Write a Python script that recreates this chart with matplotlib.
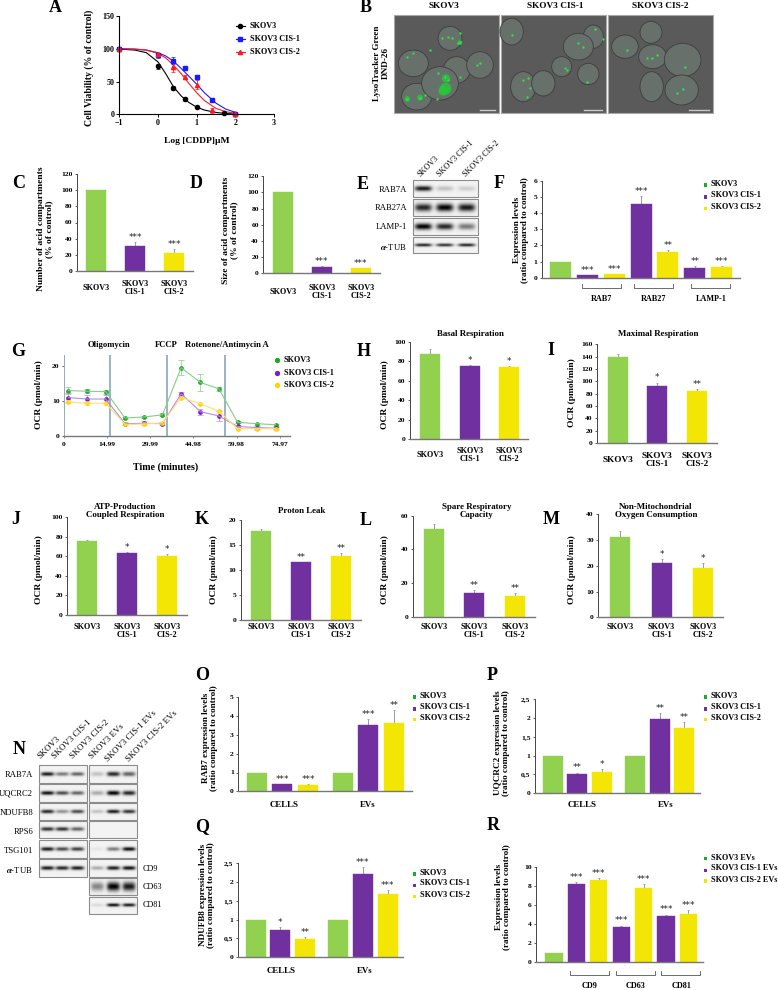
# -*- coding: utf-8 -*-
import numpy as np
import matplotlib
matplotlib.use('Agg')
import matplotlib.pyplot as plt
from matplotlib.patches import Rectangle, Ellipse

plt.rcParams['font.family'] = ['Liberation Serif', 'DejaVu Sans']
plt.rcParams['font.weight'] = 'bold'
plt.rcParams['mathtext.fontset'] = 'stix'

W, H = 778, 990
GREEN = '#92d050'
PURPLE = '#7030a0'
YELLOW = '#f3e504'
LEG_GREEN = '#1fa82a'
TRIO = [GREEN, PURPLE, YELLOW]
SEVEN = [GREEN, PURPLE, YELLOW, PURPLE, YELLOW, PURPLE, YELLOW]
SIX = [GREEN, PURPLE, YELLOW, GREEN, PURPLE, YELLOW]
LINES = ['SKOV3', 'SKOV3 CIS-1', 'SKOV3 CIS-2']
CATS = ['SKOV3', 'SKOV3\nCIS-1', 'SKOV3\nCIS-2']

# ----- panel A
A_FIT_X = [-1, -0.6, -0.3, 0, 0.2, 0.4, 0.6, 0.8, 1, 1.2, 1.5, 1.75, 2]
A_FIT_K = [99.5, 98, 94, 80, 62, 42, 28, 18, 11, 6.5, 2.8, 1.2, 0.4]
A_FIT_B = [100, 99.5, 98, 94, 89, 81, 70, 58, 46, 33, 17, 8, 3]
A_FIT_R = [100, 99.5, 98, 93, 86, 75, 62, 47, 33, 21, 9, 4, 1.5]
A_X_K = [-1, 0, 0.4, 0.7, 1, 1.7, 2]
A_K = [100, 73, 40, 23.5, 11, 2.5, 0.5]
A_KE = [0, 4, 3.5, 3.5, 1, 0.5, 0.3]
A_X_C = [-1, 0, 0.4, 0.7, 1, 1.4, 2]
A_B = [100, 90, 82, 70, 57, 22, 1]
A_BE = [0, 4, 5, 2, 3, 2, 0.5]
A_R = [100, 92, 72, 57, 45, 6, 0.5]
A_RE = [0, 2, 7, 3, 7, 4, 0.5]

# ----- bar panels
C_VALS, C_ERRS, C_STARS = [100, 30.5, 22.5], [0.4, 5.5, 5], ['', '***', '***']
D_VALS, D_ERRS, D_STARS = [100, 8, 6], [0.4, 0.8, 0.6], ['', '***', '***']
F_VALS = [1, 0.15, 0.2, 4.55, 1.6, 0.6, 0.68]
F_ERRS = [0, 0.03, 0.03, 0.5, 0.12, 0.1, 0.04]
F_STARS = ['', '***', '***', '***', '**', '**', '***']
H_VALS, H_ERRS, H_STARS = [88, 75, 74], [4.5, 1, 1.2], ['', '*', '*']
I_VALS, I_ERRS, I_STARS = [139, 92, 84], [5, 6, 3], ['', '*', '**']
J_VALS, J_ERRS, J_STARS = [76, 63, 60.5], [1.2, 1, 1.5], ['', '*', '*']
K_VALS, K_ERRS, K_STARS = [17.8, 11.6, 12.9], [0.4, 0, 0.5], ['', '**', '**']
L_VALS, L_ERRS, L_STARS = [52, 14, 12.5], [3, 2, 1.5], ['', '**', '**']
M_VALS, M_ERRS, M_STARS = [31.2, 21, 19.3], [2.3, 1.6, 1.7], ['', '*', '*']
O_VALS = [1, 0.37, 0.34, 1, 3.55, 3.62]
O_ERRS = [0, 0.02, 0.03, 0, 0.28, 0.68]
O_STARS = ['', '***', '***', '', '***', '**']
P_VALS = [1, 0.5, 0.56, 1, 1.97, 1.72]
P_ERRS = [0, 0.05, 0.08, 0, 0.16, 0.16]
P_STARS = ['', '**', '*', '', '**', '**']
Q_VALS = [1, 0.73, 0.49, 1, 2.2, 1.68]
Q_ERRS = [0, 0.07, 0.04, 0, 0.2, 0.1]
Q_STARS = ['', '*', '**', '', '***', '***']
R_VALS = [1, 8.2, 8.7, 3.7, 7.8, 4.9, 5.05]
R_ERRS = [0, 0.2, 0.15, 0.15, 0.4, 0.1, 0.4]
R_STARS = ['', '***', '***', '***', '***', '***', '***']
COMMA_TICKS = ['0', '0,5', '1', '1,5', '2', '2,5']

# ----- panel G
G_T = [1.5, 8.1, 14.5, 21.2, 27.7, 34.2, 40.7, 47.4, 53.8, 60.3, 66.9, 73.5]
G_GREEN = [12.9, 12.7, 12.6, 5.1, 5.4, 6.0, 19.4, 15.2, 13.4, 3.9, 3.5, 3.2]
G_GREEN_E = [0.9, 0.6, 0.6, 0.3, 0.4, 0.4, 2.2, 2.3, 0.6, 0.3, 0.3, 0.3]
G_PURPLE = [10.9, 10.5, 10.5, 3.5, 3.6, 3.5, 12.0, 6.9, 5.7, 2.7, 2.4, 2.2]
G_PURPLE_E = [1.2, 1.2, 1.2, 0.5, 0.6, 0.5, 0.4, 0.8, 1.5, 0.3, 0.4, 0.3]
G_YELLOW = [9.7, 9.3, 9.3, 3.3, 3.4, 3.7, 10.9, 9.2, 7.0, 2.1, 2.1, 2.1]
G_YELLOW_E = [0.4, 0.4, 0.4, 0.3, 0.3, 0.3, 0.4, 0.3, 0.4, 0.3, 0.3, 0.3]
G_TICKS = [0, 14.99, 29.99, 44.98, 59.98, 74.97]
G_INJECT = [16, 35.9, 55.9]

# ----- blots, darkness per lane
E_ROWS = ['RAB7A', 'RAB27A', 'LAMP-1', r'$\alpha$-TUB']
E_DARK = [[0.9, 0.2, 0.15], [0.85, 1, 0.9], [1, 0.85, 0.5], [0.85, 0.8, 0.85]]
E_BAND_H = [4, 6, 5, 2.5]
N_ROWS = ['RAB7A', 'UQCRC2', 'NDUFB8', 'RPS6', 'TSG101', r'$\alpha$-TUB']
N_LEFT = [[0.9, 0.5, 0.6], [0.95, 0.7, 0.6], [0.85, 0.4, 0.7],
          [0.8, 0.8, 0.6], [0.9, 0.7, 0.75], [0.9, 0.85, 0.9]]
N_RIGHT = [[0.2, 0.85, 0.6], [0.3, 1, 0.85], [0.2, 0.9, 0.8], [0, 0, 0],
           [0.05, 0.5, 0.95], [0.3, 0.9, 0.95], [0.45, 1, 0.9], [0.1, 0.95, 0.9]]
N_RIGHT_H = [3.5, 3.5, 3, 3, 3, 3, 7, 2.5]
N_HEAD = ['SKOV3', 'SKOV3 CIS-1', 'SKOV3 CIS-2', 'SKOV3 EVs', 'SKOV3 CIS-1 EVs', 'SKOV3 CIS-2 EVs']

# ----- micrographs, read at 3x from the picture (crop starts at x=380)
B_SPOTS = [(185, 115), (205, 110), (240, 100), (240, 125), (215, 113), (235, 130), (100, 158),
           (150, 150), (80, 170), (175, 218), (195, 232), (240, 230), (290, 195), (300, 190),
           (80, 297), (120, 293), (135, 285), (170, 297), (205, 240),
           (555, 205), (595, 128), (645, 88), (430, 240), (450, 265), (445, 235), (620, 245),
           (560, 210), (610, 140), (395, 105), (440, 290), (670, 118),
           (815, 175), (800, 175), (830, 165), (910, 268), (890, 278), (915, 200), (740, 150)]
B_BLOBS = [(197, 266, 70), (190, 272, 50), (198, 235, 35), (82, 297, 18), (120, 293, 18), (240, 128, 12)]
B_CELLS = [(210, 115, 36, 36), (100, 190, 45, 40), (230, 210, 40, 40), (300, 195, 40, 40),
           (110, 290, 45, 40), (180, 250, 55, 50),
           (395, 95, 35, 40), (640, 110, 30, 35), (595, 140, 45, 40), (545, 200, 30, 30),
           (625, 222, 32, 32), (430, 260, 38, 45), (490, 250, 35, 38),
           (813, 97, 33, 33), (735, 140, 40, 35), (818, 170, 42, 36), (908, 180, 55, 50),
           (815, 260, 35, 45), (905, 270, 50, 45)]


fig = plt.figure(figsize=(W / 100, H / 100), dpi=100, facecolor='white')


def px_axes(l, r, t, b):
    return fig.add_axes([l / W, 1 - b / H, (r - l) / W, (b - t) / H], facecolor='none')


ov = fig.add_axes([0, 0, 1, 1], facecolor='none', zorder=5)
ov.set_xlim(0, W)
ov.set_ylim(H, 0)
ov.axis('off')


def txt(x, y, s, size=6.3, **kw):
    kw.setdefault('ha', 'center')
    kw.setdefault('va', 'center')
    ov.text(x, y, s, fontsize=size, **kw)


def style_axis(ax, color='#777777', size=5.4):
    for s in ('top', 'right'):
        ax.spines[s].set_visible(False)
    ax.spines['bottom'].set_color(color)
    ax.spines['left'].set_color('#444444')
    ax.spines['left'].set_linewidth(0.7)
    ax.spines['bottom'].set_linewidth(1.0)
    ax.tick_params(axis='y', length=1.6, width=0.6, pad=1.6, labelsize=size, color='#444444')
    ax.tick_params(axis='x', length=0)


def bar_panel(box, ymax, yticks, vals, errs, stars, colors, x, c0, sp, bw, cats=None,
              cat_y=None, cat_mid=True, ticklabels=None, tick_size=5.4, cat_size=5.9, star_up=3.4):
    l, r, t, b = box
    ax = px_axes(l, r, t, b)
    ax.set_xlim((l - c0) / sp, (r - c0) / sp)
    ax.set_ylim(0, ymax)
    ax.bar(x, vals, width=bw / sp, color=colors, edgecolor=[c + '' for c in colors], linewidth=0.3, zorder=2)
    for xi, v, e, c in zip(x, vals, errs, colors):
        if e > 0:
            ax.errorbar(xi, v, yerr=[[0], [e]], color='#8a8a8a', lw=0.6, capsize=1.0, capthick=0.5, zorder=1)
    for xi, v, e, s in zip(x, vals, errs, stars):
        if s:
            ax.annotate(s, (xi, v + e), xytext=(0, star_up), textcoords='offset points',
                        ha='center', va='center', fontsize=6.3, fontfamily='DejaVu Sans', fontweight='normal',
                        color='#222222')
    style_axis(ax, size=tick_size)
    ax.set_yticks(yticks)
    if ticklabels:
        ax.set_yticklabels(ticklabels)
    if cats:
        ax.set_xticks(x)
        if cat_mid:
            ax.set_xticklabels(cats, fontsize=cat_size, va='center', linespacing=1.0)
            ax.tick_params(axis='x', pad=(cat_y - b) * 0.72)
        else:
            ax.set_xticklabels(cats, fontsize=cat_size, va='top', linespacing=1.0)
            ax.tick_params(axis='x', pad=(cat_y - 4 - b) * 0.72)
    else:
        ax.set_xticks([])
    return ax


def legend_squares(x_sq, x_txt, ys_sq, ys_txt, labels, size=5.9):
    for y, c in zip(ys_sq, [LEG_GREEN, PURPLE, YELLOW]):
        ov.add_patch(Rectangle((x_sq - 1.7, y - 1.7), 3.4, 3.4, color=c, lw=0))
    for y, s in zip(ys_txt, labels):
        txt(x_txt, y, s, size=size, ha='left')


def bracket(x0, x1, y, up=3.7):
    ov.plot([x0, x0, x1, x1], [y - up, y, y, y - up], color='#555555', lw=0.6)


def blot(l, r, t, b, lanes, dark, band_h, band_w=8.5):
    ny, nx = 60, 160
    yy, xx = np.mgrid[0:ny, 0:nx]
    px_x = l + (xx + 0.5) / nx * (r - l)
    px_y = t + (yy + 0.5) / ny * (b - t)
    img = np.zeros((ny, nx))
    cy = (t + b) / 2
    for cx, d in zip(lanes, dark):
        img += d * np.exp(-((px_x - cx) / band_w) ** 4) * np.exp(-((px_y - cy) / (band_h / 1.6)) ** 2)
    img = 0.95 - 0.95 * np.clip(img, 0, 1)
    ov.imshow(img, extent=(l, r, b, t), cmap='gray', vmin=0, vmax=1, aspect='auto', zorder=1, interpolation='bilinear')
    ov.add_patch(Rectangle((l, t), r - l, b - t, fill=False, ec='#8c8c8c', lw=0.8, zorder=2))


# ----- A
ax = px_axes(119.3, 274, 16, 114.3)
ax.set_xlim(-1, 3)
ax.set_ylim(0, 150)
for fit, c in zip([A_FIT_K, A_FIT_B, A_FIT_R], ['black', '#1a1aff', '#ff1a1a']):
    ax.plot(A_FIT_X, fit, color=c, lw=0.8, clip_on=False)
ax.errorbar(A_X_K, A_K, yerr=A_KE, fmt='o', color='black', ms=3, lw=0.6, capsize=1.2, capthick=0.5, clip_on=False)
ax.errorbar(A_X_C, A_B, yerr=A_BE, fmt='s', color='#1a1aff', ms=3, lw=0.6, capsize=1.2, capthick=0.5, clip_on=False)
ax.errorbar(A_X_C, A_R, yerr=A_RE, fmt='^', color='#ff1a1a', ms=3, lw=0.6, capsize=1.2, capthick=0.5, clip_on=False)
for s in ('top', 'right'):
    ax.spines[s].set_visible(False)
for s in ('left', 'bottom'):
    ax.spines[s].set_linewidth(0.8)
ax.set_xticks(range(-1, 4))
ax.set_yticks([0, 50, 100, 150])
ax.tick_params(length=2, width=0.7, pad=1.5, labelsize=5.8)
for y, s, c, m in zip([25.7, 38.7, 51.7], LINES, ['black', '#1a1aff', '#ff1a1a'], ['o', 's', '^']):
    ov.plot([236, 245], [y, y], color=c, lw=0.8)
    ov.plot([240.5], [y], marker=m, color=c, ms=3)
    txt(250, y, s, size=5.9, ha='left')
txt(89, 68.3, 'Cell Viability (% of control)', size=7, rotation=90)
txt(197, 141.3, 'Log [CDDP]µM', size=6.8)

# ----- B
for l, r in [(394, 499), (501, 606), (608, 712.7)]:
    ov.add_patch(Rectangle((l, 14.7), r - l, 98.6, fc='#5a5a5a', ec='#a8a8a8', lw=0.8, zorder=1))
for cx, cy, rx, ry in B_CELLS:
    ov.add_patch(Ellipse((380 + cx / 3, cy / 3), 2 * rx / 3, 2 * ry / 3, fc='#67706a', ec='#3e3e3e', lw=0.6, zorder=1.2))
ov.scatter([380 + p[0] / 3 for p in B_BLOBS], [p[1] / 3 for p in B_BLOBS], s=[p[2] for p in B_BLOBS],
           color='#25c83a', alpha=0.85, lw=0, zorder=1.4)
ov.scatter([380 + p[0] / 3 for p in B_SPOTS], [p[1] / 3 for p in B_SPOTS], s=3, color='#2fe04a', lw=0, zorder=1.5)
for x0, x1 in [(480.3, 494.7), (584.3, 602), (689.3, 709)]:
    ov.plot([x0, x1], [109.7, 109.7], color='#c8c8c8', lw=1, zorder=1.6)
txt(444.3, 6.5, 'SKOV3', size=6.7)
txt(555.7, 6, 'SKOV3 CIS-1', size=6.7)
txt(660, 6, 'SKOV3 CIS-2', size=6.7)
txt(381.5, 63, 'LysoTracker Green\nDND-26', size=6.6, rotation=90, linespacing=1.0)

# ----- C, D
bar_panel((76.7, 193, 174, 271), 120, range(0, 121, 20), C_VALS, C_ERRS, C_STARS, TRIO, [0, 1, 2], 96.3, 39, 20,
          CATS, 288)
txt(45.5, 229, 'Number of acid compartments\n(% of control)', size=6.8, rotation=90, linespacing=1.0)
bar_panel((263.3, 380, 176.3, 273.3), 120, range(0, 121, 20), D_VALS, D_ERRS, D_STARS, TRIO, [0, 1, 2], 282.7, 39, 20,
          CATS, 292)
txt(230, 230, 'Size of acid compartments\n(% of control)', size=6.8, rotation=90, linespacing=1.0)

# ----- E
for name, dk, bh, t, b, y in zip(E_ROWS, E_DARK, E_BAND_H, [180.3, 199.3, 218.3, 237.3], [197, 216, 235, 253.3],
                                 [190, 208, 227, 247]):
    blot(412.7, 478.3, t, b, [423, 444.3, 466], dk, bh)
    txt(407, y, name, size=6.2, ha='right', fontweight='normal')
for x, s in zip([422, 441, 467], LINES):
    txt(x, 178, s, size=5.9, ha='left', va='bottom', rotation=45, rotation_mode='anchor', fontweight='normal')

# ----- F
bar_panel((542, 740, 180.7, 277.7), 6, range(0, 7), F_VALS, F_ERRS, F_STARS, SEVEN, range(7), 560.3, 26.9, 21)
txt(521, 230, 'Expression levels\n(ratio compared to control)', size=6.6, rotation=90, linespacing=1.0)
for x0, x1, xc, s in zip([582, 634.3, 691.3], [620.7, 673, 730.3], [602, 654, 711.7], ['RAB7', 'RAB27', 'LAMP-1']):
    bracket(x0, x1, 287.7)
    txt(xc, 298.7, s, size=5.9)
legend_squares(705.7, 710.7, [185, 197, 208.7], [184, 195.3, 207], LINES)

# ----- G
ax = px_axes(64, 290, 355, 436)
ax.set_xlim(0, 78.5)
ax.set_ylim(0, 23)
for ys, es, mc, lc in zip([G_GREEN, G_PURPLE, G_YELLOW], [G_GREEN_E, G_PURPLE_E, G_YELLOW_E],
                          ['#1fa82a', '#7a1fc0', '#ffd500'], ['#86cf86', '#b98ae0', '#ffdf70']):
    ax.errorbar(G_T, ys, yerr=es, color=lc, lw=0.8, capsize=2, capthick=0.5, elinewidth=0.5)
    ax.plot(G_T, ys, ls='', marker='o', ms=2.4, color=mc)
for t in G_INJECT:
    ax.axvline(t, color='#7d9fb5', lw=1.1)
style_axis(ax)
ax.spines['left'].set_color('#99aab5')
ax.set_yticks([0, 10, 20])
ax.set_xticks(G_TICKS)
ax.set_xticklabels(['0', '14.99', '29.99', '44.98', '59.98', '74.97'], fontsize=5.4)
ax.tick_params(axis='x', length=1.6, width=0.6, pad=3, color='#777777')
txt(109, 345, 'Oligomycin', size=6.2)
txt(166.7, 345, 'FCCP', size=6.2)
txt(226.7, 345, 'Rotenone/Antimycin A', size=6.2)
for y, y2, c, s in zip([360, 372.7, 384.7], [360, 372.7, 384.7], ['#1fa82a', '#7a1fc0', '#ffd500'], LINES):
    ov.plot([276.7], [y], marker='o', ms=2.8, color=c)
    txt(283.7, y2, s, size=5.9, ha='left')
txt(39, 395, 'OCR (pmol/min)', size=6.8, rotation=90)
txt(166, 466.7, 'Time (minutes)', size=7.2)

# ----- H, I
bar_panel((410, 528, 342, 439), 100, range(0, 101, 20), H_VALS, H_ERRS, H_STARS, TRIO, [0, 1, 2], 430, 39.7, 20, CATS, 455)
txt(470, 333.7, 'Basal Respiration', size=6.4)
txt(385, 395, 'OCR (pmol/min)', size=6.8, rotation=90)
bar_panel((597.3, 716.7, 344.3, 443), 160, range(0, 161, 20), I_VALS, I_ERRS, I_STARS, TRIO, [0, 1, 2], 617.7, 39.7, 20,
          CATS, 459.5, cat_size=6.7)
txt(658, 333.7, 'Maximal Respiration', size=6.4)
txt(572.3, 393, 'OCR (pmol/min)', size=6.8, rotation=90)

# ----- J, K, L, M
bar_panel((67.3, 186.7, 517.3, 615), 100, range(0, 101, 20), J_VALS, J_ERRS, J_STARS, TRIO, [0, 1, 2], 87.3, 39.9, 20,
          CATS, 627, cat_mid=False)
txt(125, 511, 'ATP-Production\nCoupled Respiration', size=6.4, linespacing=1.0)
txt(39, 570, 'OCR (pmol/min)', size=6.8, rotation=90)
bar_panel((240.7, 361, 520.3, 619.7), 20, range(0, 21, 5), K_VALS, K_ERRS, K_STARS, TRIO, [0, 1, 2], 261, 40, 20,
          CATS, 627, cat_mid=False)
txt(301.7, 511, 'Proton Leak', size=6.4)
txt(214.3, 570, 'OCR (pmol/min)', size=6.8, rotation=90)
bar_panel((412.7, 535, 515.7, 617), 60, range(0, 61, 20), L_VALS, L_ERRS, L_STARS, TRIO, [0, 1, 2], 433.7, 40.7, 20,
          CATS, 627, cat_mid=False)
txt(476.7, 511, 'Spare Respiratory\nCapacity', size=6.4, linespacing=1.0)
txt(385, 570, 'OCR (pmol/min)', size=6.8, rotation=90)
bar_panel((598.3, 723.3, 514.3, 617.3), 40, range(0, 41, 10), M_VALS, M_ERRS, M_STARS, TRIO, [0, 1, 2], 620.3, 41.2, 20,
          CATS, 627, cat_mid=False)
txt(655.7, 511, 'Non-Mitochondrial\nOxygen Consumption', size=6.4, linespacing=1.0)
txt(572.3, 570, 'OCR (pmol/min)', size=6.8, rotation=90)

# ----- N
left_t = [765.3, 784.3, 803.3, 821, 840.3, 859.3]
left_b = [782.7, 801.7, 820.3, 838.3, 857.7, 876.7]
right_t = left_t + [878.3, 897]
right_b = left_b + [895.3, 914.3]
for t, b, dk in zip(left_t, left_b, N_LEFT):
    blot(39.3, 86.7, t, b, [47.7, 62.3, 77.3], dk, 3, band_w=6.5)
for t, b, dk, bh in zip(right_t, right_b, N_RIGHT, N_RIGHT_H):
    blot(89.3, 137.3, t, b, [97.7, 113.7, 129.3], dk, bh, band_w=6.5)
for y, s in zip([774.7, 793.7, 813, 831.7, 851, 870.3], N_ROWS):
    txt(33, y, s, size=6.2, ha='right', fontweight='normal')
for y, s in zip([869, 887, 905], ['CD9', 'CD63', 'CD81']):
    txt(142.7, y, s, size=5.9, ha='left', fontweight='normal')
for x, y, s in zip([41.7, 56.7, 74, 93.3, 109.3, 130], [760.7, 760.7, 760.7, 760.7, 763, 763], N_HEAD):
    txt(x, y, s, size=6.3, ha='left', va='bottom', rotation=45, rotation_mode='anchor', fontweight='normal')

# ----- O, P, Q, R
GROUPED = [0, 1, 2, 3.35, 4.35, 5.35]
bar_panel((238.3, 411.7, 697.3, 791.3), 5, range(0, 6), O_VALS, O_ERRS, O_STARS, SIX, GROUPED, 256.7, 25.67, 20)
txt(284.3, 805, 'CELLS', size=6.4)
txt(367.7, 805, 'EVs', size=6.4)
txt(210, 738, 'RAB7 expression levels\n(ratio compared to control)', size=6.6, rotation=90, linespacing=1.0)
legend_squares(414.3, 420, [697, 709, 719.3], [696, 706.7, 718], LINES)

bar_panel((535, 700, 699, 793.3), 2.5, [0, 0.5, 1, 1.5, 2, 2.5], P_VALS, P_ERRS, P_STARS, SIX, GROUPED, 552.7, 24.6, 20,
          ticklabels=COMMA_TICKS)
txt(582, 805, 'CELLS', size=6.4)
txt(665.7, 805, 'EVs', size=6.4)
txt(502, 743, 'UQCRC2 expression levels\n(ratio compared to control)', size=6.6, rotation=90, linespacing=1.0)
legend_squares(705.7, 710.7, [697, 709, 719.3], [696, 706.7, 718], LINES)

bar_panel((237.7, 403.3, 863, 957.3), 2.5, [0, 0.5, 1, 1.5, 2, 2.5], Q_VALS, Q_ERRS, Q_STARS, SIX, GROUPED, 255.7, 24.65, 20,
          ticklabels=COMMA_TICKS)
txt(281.3, 970.7, 'CELLS', size=6.4)
txt(364.7, 970.7, 'EVs', size=6.4)
txt(207, 895, 'NDUFB8 expression levels\n(ratio compared to control)', size=6.6, rotation=90, linespacing=1.0)
legend_squares(414.3, 420, [874, 885.7, 896.7], [872.7, 883.3, 895], LINES)

bar_panel((536, 703.3, 867.3, 962), 10, range(0, 11, 2), R_VALS, R_ERRS, R_STARS, SEVEN, range(7), 554, 22.4, 17.3)
txt(503, 896.7, 'Expression levels\n(ratio compared to control)', size=6.6, rotation=90, linespacing=1.0)
for x0, x1, xc, s in zip([570, 616, 661.3], [608.7, 654.7, 700], [590, 636, 681.7], ['CD9', 'CD63', 'CD81']):
    bracket(x0, x1, 975)
    txt(xc, 986, s, size=5.9)
legend_squares(705.7, 710.7, [858.7, 870.3, 881], [857.7, 868.3, 880],
               ['SKOV3 EVs', 'SKOV3 CIS-1 EVs', 'SKOV3 CIS-2 EVs'])

# ----- panel letters
LETTERS = {'A': (55.7, 7), 'B': (366, 7), 'C': (19, 184), 'D': (196, 184), 'E': (362.7, 184.7), 'F': (499.3, 184),
           'G': (18.3, 351), 'H': (364, 351), 'I': (551, 350.7), 'J': (16, 519.3), 'K': (201.7, 519.7),
           'L': (366, 520.7), 'M': (551, 520), 'N': (19, 750), 'O': (201.7, 675.7), 'P': (491.7, 675),
           'Q': (201.7, 826.7), 'R': (493.3, 825.7)}
for k, (x, y) in LETTERS.items():
    txt(x, y, k, size=13)

ov.set_xlim(0, W)
ov.set_ylim(H, 0)
fig.savefig('out.png', dpi=100)
